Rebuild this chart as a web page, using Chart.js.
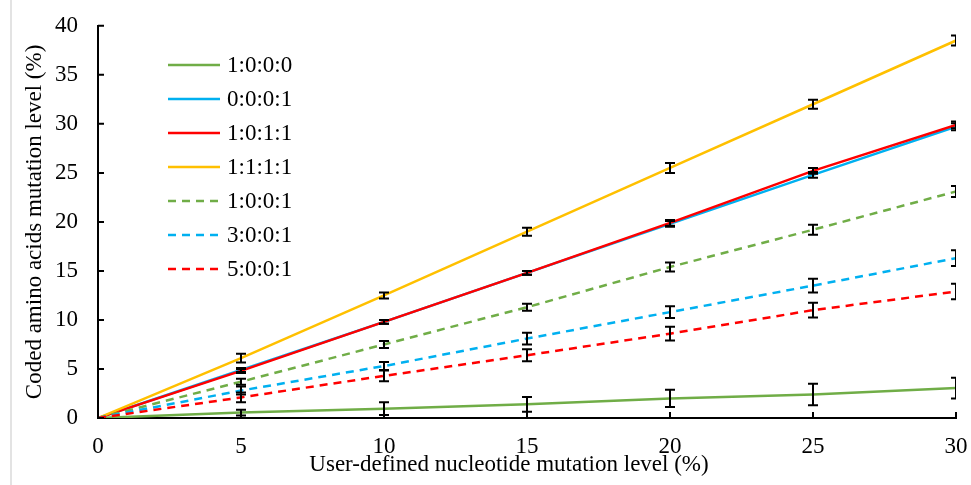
<!DOCTYPE html>
<html>
<head>
<meta charset="utf-8">
<script src="https://cdn.jsdelivr.net/npm/chart.js@4"></script>
<style>
    html, body { margin: 0; padding: 0; background: #ffffff; }
    #wrap { position: relative; width: 971px; height: 485px; }
    #frameLine { position: absolute; left: 10px; top: 0; width: 2px; height: 485px; background: #e3e3e3; }
</style>
</head>
<body>
<div id="wrap">
    <div id="frameLine"></div>
    <canvas id="chart" width="971" height="485"></canvas>
</div>
<script>
// Níveis de mutação definidos pelo usuário (eixo x)
const xLevels = [0, 5, 10, 15, 20, 25, 30];
const yTicks = [0, 5, 10, 15, 20, 25, 30, 35, 40];

// Séries (valores médios)
const s1000 = [0, 0.55, 0.95, 1.4, 2.0, 2.4, 3.05];
const s0001 = [0, 4.9, 9.8, 14.8, 19.8, 24.8, 29.7];
const s1011 = [0, 4.8, 9.8, 14.8, 19.9, 25.2, 29.9];
const s1111 = [0, 6.1, 12.5, 19.0, 25.5, 32.0, 38.5];
const s1001 = [0, 3.7, 7.5, 11.3, 15.4, 19.2, 23.1];
const s3001 = [0, 2.8, 5.3, 8.1, 10.8, 13.5, 16.3];
const s5001 = [0, 2.1, 4.3, 6.4, 8.6, 11.0, 12.9];

// Barras de erro (meia altura)
const e1000 = [0, 0.3, 0.65, 0.75, 0.87, 1.1, 1.05];
const e0001 = [0, 0.2, 0.2, 0.2, 0.3, 0.3, 0.35];
const e1011 = [0, 0.2, 0.2, 0.2, 0.3, 0.3, 0.35];
const e1111 = [0, 0.45, 0.3, 0.4, 0.5, 0.45, 0.5];
const e1001 = [0, 0.3, 0.35, 0.35, 0.45, 0.5, 0.55];
const e3001 = [0, 0.4, 0.4, 0.6, 0.6, 0.7, 0.8];
const e5001 = [0, 0.5, 0.55, 0.6, 0.7, 0.75, 0.8];

const GREEN = '#70AD47';
const BLUE = '#00B0F0';
const RED = '#FF0000';
const YELLOW = '#FFC000';
const FONT = "'Liberation Serif', 'Times New Roman', serif";
const FONT_SIZE = 23;
const X_TITLE = 'User-defined nucleotide mutation level (%)';

// Séries posteriores ficam por cima (como no Excel)
function makeSet(label, values, errors, color, dashed, idx) {
    return {
        label: label,
        data: xLevels.map((x, i) => ({ x: x, y: values[i] })),
        errors: errors,
        borderColor: color,
        backgroundColor: color,
        borderWidth: 2.5,
        borderDash: dashed ? [8, 6] : [],
        pointRadius: 0,
        tension: 0,
        fill: false,
        order: 10 - idx
    };
}

// Barras de erro desenhadas sobre as linhas
const errorBarsPlugin = {
    id: 'errorBars',
    afterDatasetsDraw(chart) {
        const ctx = chart.ctx;
        const xs = chart.scales.x;
        const ys = chart.scales.y;
        const area = chart.chartArea;
        ctx.save();
        ctx.beginPath();
        ctx.rect(area.left, area.top - 10, area.right - area.left, area.bottom - area.top + 20);
        ctx.clip();
        ctx.strokeStyle = '#000000';
        ctx.lineWidth = 2;
        chart.data.datasets.forEach(ds => {
            ds.data.forEach((p, i) => {
                if (i === 0) return;
                const e = ds.errors[i];
                const px = xs.getPixelForValue(p.x);
                const top = ys.getPixelForValue(p.y + e);
                const bot = ys.getPixelForValue(p.y - e);
                ctx.beginPath();
                ctx.moveTo(px, top);
                ctx.lineTo(px, bot);
                ctx.moveTo(px - 5, top);
                ctx.lineTo(px + 5, top);
                ctx.moveTo(px - 5, bot);
                ctx.lineTo(px + 5, bot);
                ctx.stroke();
            });
        });
        ctx.restore();
    }
};

// Marcas de escala voltadas para dentro + título do eixo x
const innerTicksPlugin = {
    id: 'innerTicks',
    afterDraw(chart) {
        const ctx = chart.ctx;
        const xs = chart.scales.x;
        const ys = chart.scales.y;
        const area = chart.chartArea;
        ctx.save();
        ctx.strokeStyle = '#000000';
        ctx.lineWidth = 2;
        ctx.beginPath();
        xLevels.forEach(v => {
            const px = xs.getPixelForValue(v);
            ctx.moveTo(px, area.bottom);
            ctx.lineTo(px, area.bottom - 6);
        });
        yTicks.forEach(v => {
            const py = ys.getPixelForValue(v);
            ctx.moveTo(area.left, py);
            ctx.lineTo(area.left + 6, py);
        });
        ctx.stroke();

        // título centralizado na figura inteira, como no original
        ctx.font = FONT_SIZE + 'px ' + FONT;
        ctx.fillStyle = '#000000';
        ctx.textAlign = 'center';
        ctx.textBaseline = 'middle';
        ctx.fillText(X_TITLE, 509, 465);
        ctx.restore();
    }
};

// Legenda dentro da área do gráfico
const innerLegendPlugin = {
    id: 'innerLegend',
    afterDraw(chart) {
        const ctx = chart.ctx;
        ctx.save();
        ctx.font = FONT_SIZE + 'px ' + FONT;
        ctx.textBaseline = 'middle';
        ctx.fillStyle = '#000000';
        chart.data.datasets.forEach((ds, i) => {
            const y = 65 + i * 34;
            ctx.strokeStyle = ds.borderColor;
            ctx.lineWidth = 2.5;
            ctx.setLineDash(ds.borderDash);
            ctx.beginPath();
            ctx.moveTo(168, y);
            ctx.lineTo(220, y);
            ctx.stroke();
            ctx.setLineDash([]);
            ctx.fillText(ds.label, 227, y + 1);
        });
        ctx.restore();
    }
};

new Chart(document.getElementById('chart'), {
    type: 'line',
    data: {
        datasets: [
            makeSet('1:0:0:0', s1000, e1000, GREEN, false, 0),
            makeSet('0:0:0:1', s0001, e0001, BLUE, false, 1),
            makeSet('1:0:1:1', s1011, e1011, RED, false, 2),
            makeSet('1:1:1:1', s1111, e1111, YELLOW, false, 3),
            makeSet('1:0:0:1', s1001, e1001, GREEN, true, 4),
            makeSet('3:0:0:1', s3001, e3001, BLUE, true, 5),
            makeSet('5:0:0:1', s5001, e5001, RED, true, 6)
        ]
    },
    options: {
        responsive: false,
        animation: false,
        layout: { padding: { left: 14, right: 15, top: 13, bottom: 5 } },
        plugins: {
            legend: { display: false },
            tooltip: { enabled: false }
        },
        scales: {
            x: {
                type: 'linear',
                min: 0,
                max: 30,
                afterBuildTicks: scale => { scale.ticks = xLevels.map(v => ({ value: v })); },
                grid: { display: false },
                border: { display: true, color: '#000000', width: 2 },
                ticks: { color: '#000000', font: { family: FONT, size: FONT_SIZE }, padding: 7, maxRotation: 0 },
                title: { display: false },
                afterFit: scale => {
                    scale.height = 62;
                    scale.paddingRight = 0;
                }
            },
            y: {
                min: 0,
                max: 40,
                afterBuildTicks: scale => { scale.ticks = yTicks.map(v => ({ value: v })); },
                grid: { display: false },
                border: { display: true, color: '#000000', width: 2 },
                ticks: { color: '#000000', font: { family: FONT, size: FONT_SIZE }, padding: 12 },
                title: {
                    display: true,
                    text: 'Coded amino acids mutation level (%)',
                    color: '#000000',
                    font: { family: FONT, size: FONT_SIZE },
                    padding: { top: 7, bottom: 4 }
                },
                afterFit: scale => { scale.width = 84; }
            }
        }
    },
    plugins: [errorBarsPlugin, innerTicksPlugin, innerLegendPlugin]
});
</script>
</body>
</html>
